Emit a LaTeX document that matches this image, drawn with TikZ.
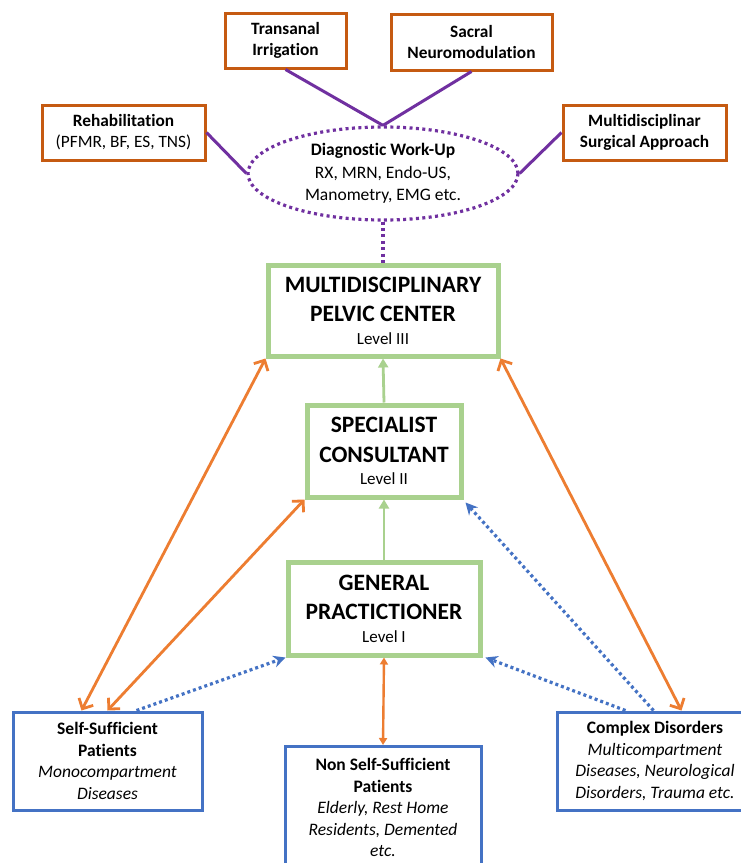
\documentclass[tikz,border=0pt]{standalone}
\usepackage{fontspec}
\setmainfont{Carlito}[Ligatures=NoCommon]
\usetikzlibrary{arrows.meta,shapes.geometric}
\definecolor{boxorange}{HTML}{C55A11}
\definecolor{arrorange}{HTML}{ED7D31}
\definecolor{lvgreen}{HTML}{A9D18E}
\definecolor{ptblue}{HTML}{4472C4}
\definecolor{dpurple}{HTML}{7030A0}
\begin{document}
\begin{tikzpicture}[x=1pt,y=-1pt,
  treat/.style={draw=boxorange, line width=3pt, fill=white, align=center, inner sep=0pt,
    font=\fontsize{17.3}{21}\selectfont},
  levelbox/.style={draw=lvgreen, line width=5pt, fill=white, align=center, inner sep=0pt,
    font=\fontsize{23.5}{29.5}\selectfont\bfseries},
  patient/.style={draw=ptblue, line width=3pt, fill=white, align=center, inner sep=0pt,
    font=\fontsize{17.5}{21.5}\selectfont},
  purp/.style={draw=dpurple, line width=3pt},
  purpdot/.style={draw=dpurple, line width=3.2pt, dash pattern=on 3pt off 3.4pt},
  garr/.style={draw=lvgreen, line width=2.8pt, -{Triangle[length=9pt,width=10pt]}},
  oarr/.style={draw=arrorange, line width=2.8pt,
    arrows={Straight Barb[length=8pt,width=16pt]-Straight Barb[length=8pt,width=16pt]}},
  oarrsmall/.style={draw=arrorange, line width=2.4pt,
    arrows={Triangle[length=7pt,width=8pt]-Triangle[length=7pt,width=8pt]}},
  bdot/.style={draw=ptblue, line width=3.2pt, dash pattern=on 3pt off 3pt,
    -{Stealth[length=12pt,width=12pt]}}
]
\useasboundingbox[fill=white] (0,0) rectangle (741,863);

% treatment boxes
\node[treat, minimum width=121pt, minimum height=55pt] (trans) at (285.5,40.5)
  {\textbf{Transanal}\\\textbf{Irrigation}};
\node[treat, minimum width=161pt, minimum height=56pt] (sacral) at (471.5,42)
  {\textbf{Sacral}\\\textbf{Neuromodulation}};
\node[treat, minimum width=163pt, minimum height=55pt] (rehab) at (123.5,132.5)
  {\textbf{Rehabilitation}\\(PFMR, BF, ES, TNS)};
\node[treat, minimum width=163pt, minimum height=55pt] (surg) at (644.5,132.5)
  {\textbf{Multidisciplinar}\\\textbf{Surgical Approach}};

% diagnostic ellipse
\node[ellipse, purpdot, minimum width=270pt, minimum height=93pt, inner sep=0pt,
  align=center, font=\fontsize{17.5}{22.5}\selectfont] (ell) at (383,173.5)
  {\textbf{Diagnostic Work-Up}\\RX, MRN, Endo-US,\\Manometry, EMG etc.};

% levels
\node[levelbox, minimum width=230pt, minimum height=91pt] (mpc) at (383,310.5)
  {MULTIDISCIPLINARY\\PELVIC CENTER\\[-7pt]{\fontsize{17}{21}\selectfont\mdseries Level III}};
\node[levelbox, minimum width=154pt, minimum height=92pt] (sc) at (384,451)
  {SPECIALIST\\CONSULTANT\\[-7pt]{\fontsize{17}{21}\selectfont\mdseries Level II}};
\node[levelbox, minimum width=192pt, minimum height=93pt] (gp) at (384,608.5)
  {GENERAL\\PRACTICTIONER\\[-7pt]{\fontsize{17}{21}\selectfont\mdseries Level I}};

% patient boxes
\node[patient, minimum width=189pt, minimum height=98pt] (ss) at (107.5,761)
  {\textbf{Self-Sufficient}\\\textbf{Patients}\\\textit{Monocompartment}\\\textit{Diseases}};
\node[patient, minimum width=196pt, minimum height=122pt, anchor=north] (nss) at (383,745)
  {\textbf{Non Self-Sufficient}\\\textbf{Patients}\\\textit{Elderly, Rest Home}\\\textit{Residents, Demented}\\\textit{etc.}};
\node[patient, minimum width=196pt, minimum height=98pt] (cd) at (655,761)
  {\textbf{Complex Disorders}\\\textit{Multicompartment}\\\textit{Diseases, Neurological}\\\textit{Disorders, Trauma etc.}};

% purple connectors
\draw[purp] (trans.south) -- (ell.north);
\draw[purp] (sacral.south) -- (ell.north);
\draw[purp] (rehab.east) -- (ell.west);
\draw[purp] (surg.west) -- (ell.east);
\draw[purpdot] (ell.south) -- (mpc.north);

% green arrows
\draw[garr] (sc.north) -- (mpc.south);
\draw[garr] (gp.north) -- (sc.south);

% orange arrows
\coordinate (ssA) at ([xshift=70pt]ss.north west);
\coordinate (ssB) at ([xshift=96pt]ss.north west);
\coordinate (ssC) at ([xshift=125pt]ss.north west);
\coordinate (cdA) at ([xshift=70pt]cd.north west);
\coordinate (cdB) at ([xshift=98pt]cd.north west);
\coordinate (cdC) at ([xshift=126pt]cd.north west);
\draw[oarr] (mpc.south west) -- (ssA);
\draw[oarr] (sc.south west) -- (ssB);
\draw[oarr] (mpc.south east) -- (cdC);
\draw[oarrsmall] (gp.south) -- (nss.north);

% blue dotted arrows
\draw[bdot] (ssC) -- (gp.south west);
\draw[bdot] (cdA) -- ([xshift=3pt]gp.south east);
\draw[bdot] (cdB) -- ([xshift=2pt,yshift=-3pt]sc.south east);
\end{tikzpicture}
\end{document}
